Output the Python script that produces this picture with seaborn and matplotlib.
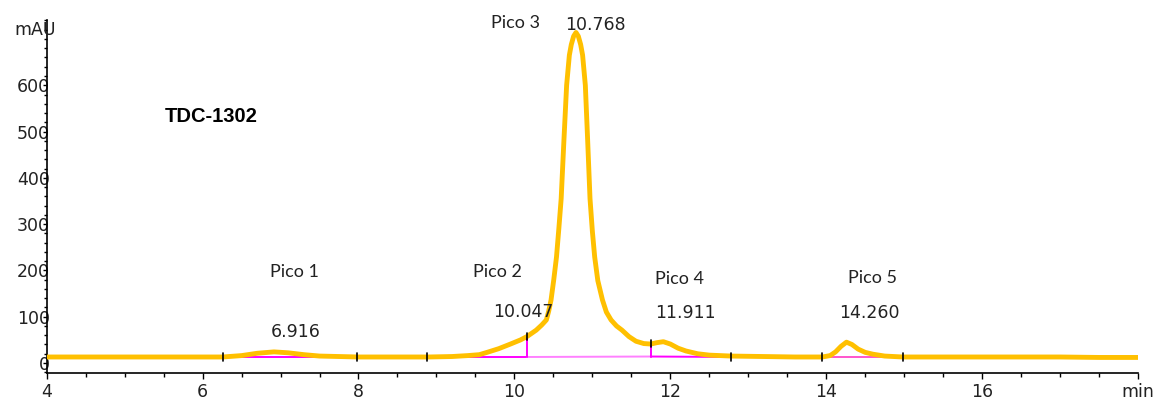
import numpy as np
import pandas as pd
import matplotlib
matplotlib.use("Agg")
import matplotlib.pyplot as plt
from matplotlib.ticker import MultipleLocator
import seaborn as sns

# ---- data ----
time_min = [4.0, 5.0, 6.0, 6.26, 6.5, 6.7, 6.916, 7.1, 7.3, 7.5, 7.75, 8.0, 8.5, 8.9,
            9.2, 9.4, 9.55, 9.65, 9.8, 9.95, 10.08, 10.16, 10.22, 10.28, 10.35,
            10.41, 10.44, 10.47, 10.505, 10.54, 10.57, 10.60, 10.635, 10.67, 10.705,
            10.73, 10.76, 10.79, 10.82, 10.85, 10.875, 10.91, 10.94, 10.97, 11.0,
            11.03, 11.07, 11.13, 11.18, 11.24, 11.31, 11.38, 11.47, 11.56, 11.66,
            11.75, 11.83, 11.911, 12.0, 12.1, 12.2, 12.35, 12.5, 12.78, 13.2, 13.6,
            13.95, 14.05, 14.12, 14.19, 14.26, 14.33, 14.41, 14.5, 14.6, 14.75, 14.98,
            15.5, 16.0, 16.5, 17.0, 17.5, 18.0]
signal_mau = [13, 13, 13, 13, 16, 21, 24, 22, 18, 15, 14, 13, 13, 13,
              14, 16, 18, 23, 31, 41, 50, 57, 64, 71, 82,
              93, 112, 136, 180, 229, 290, 355, 480, 600, 665,
              688, 706, 714, 706, 688, 665, 600, 480, 355, 285,
              229, 178, 136, 110, 93, 80, 71, 57, 47, 42,
              41, 44, 46, 41, 32, 26, 20, 17, 15, 14, 13,
              13, 16, 24, 36, 45, 40, 30, 23, 19, 15, 13,
              13, 13, 13, 13, 12, 12]

# integration baselines (start, end, level at start, level at end)
base_start = [6.26, 8.88, 10.16, 11.75, 13.95]
base_end = [7.98, 10.16, 11.75, 12.78, 14.98]
base_v0 = [12, 12, 13, 14, 13]
base_v1 = [12, 12, 14, 13, 13]
base_colors = ["#FF00FF", "#FF00FF", "#FF80FF", "#FF00FF", "#FF55CC"]

# drop lines (time, top level)
drop_t = [10.16, 11.75]
drop_top = [52, 37]
drop_bottom = [12, 13]

# integration event marks (time, centre level)
mark_t = [6.26, 7.98, 8.88, 10.16, 11.75, 12.78, 13.95, 14.98]
mark_v = [13, 13, 13, 57, 42, 13, 13, 13]

# annotations
pico_names = ["Pico 1", "Pico 2", "Pico 3", "Pico 4", "Pico 5"]
pico_name_t = [7.18, 9.78, 10.01, 12.12, 14.59]
pico_name_v = [197, 197, 734, 181, 183]
rt_labels = ["6.916", "10.047", "10.768", "11.911", "14.260"]
rt_t = [7.19, 10.12, 11.04, 12.20, 14.55]
rt_v = [67, 110, 730, 108, 108]

x_ticks = [4, 6, 8, 10, 12, 14, 16, 18]
x_ticklabels = ["4", "6", "8", "10", "12", "14", "16", "min"]
y_ticks = [0, 100, 200, 300, 400, 500, 600]
y_ticklabels = ["0", "100", "200", "300", "400", "500", "600"]

sample_name = "TDC-1302"

# ---- plotting ----
sns.set_theme(style="ticks")
plt.rcParams['font.family'] = ['DejaVu Sans']

W, H = 1153, 400
fig = plt.figure(figsize=(W / 100, H / 100), dpi=100)
ax = fig.add_axes([46.7 / W, 27 / H, (1138 - 46.7) / W, (373 - 20) / H])

df = pd.DataFrame({"t": time_min, "v": signal_mau})

# baselines
for s, e, a, b, c in zip(base_start, base_end, base_v0, base_v1, base_colors):
    ax.plot([s, e], [a, b], color=c, lw=1.4, zorder=2)

sns.lineplot(data=df, x="t", y="v", color="#FFC000", linewidth=3.5, ax=ax,
             zorder=3, sort=False)
for ln in ax.get_lines():
    ln.set_solid_joinstyle("round")
    ln.set_solid_capstyle("round")

# drop lines
for t, top, b in zip(drop_t, drop_top, drop_bottom):
    ax.plot([t, t], [b, top], color="#FF00FF", lw=1.4, zorder=4)

# event marks
for t, v in zip(mark_t, mark_v):
    ax.plot([t, t], [v - 8, v + 8], color="black", lw=1.2, zorder=5)

# texts
for name, t, v in zip(pico_names, pico_name_t, pico_name_v):
    ax.text(t, v, name, ha="center", va="center", fontsize=13,
            family=["Lato", "DejaVu Sans"], color="#222222")
for lab, t, v in zip(rt_labels, rt_t, rt_v):
    ax.text(t, v, lab, ha="center", va="center", fontsize=12.5, color="#222222")

ax.text(5.52, 533, sample_name, ha="left", va="center", fontsize=14.5,
        fontweight="bold", family=["Liberation Sans", "DejaVu Sans"], color="black")

fig.text(56 / W, 1 - 30 / H, "mAU", ha="right", va="center", fontsize=12.5,
         color="#222222")

ax.set_xlim(4, 18)
ax.set_ylim(-21.6, 741)
ax.set_xticks(x_ticks)
ax.set_xticklabels(x_ticklabels)
ax.set_yticks(y_ticks)
ax.set_yticklabels(y_ticklabels)
ax.xaxis.set_minor_locator(MultipleLocator(0.5))
ax.yaxis.set_minor_locator(MultipleLocator(20))
ax.set_xlabel("")
ax.set_ylabel("")

ax.tick_params(axis="x", which="major", length=4, width=1, pad=3, labelsize=12.5,
               colors="black", labelcolor="#222222")
ax.tick_params(axis="x", which="minor", length=3, width=1, colors="black")
ax.tick_params(axis="y", which="major", length=3, width=1, pad=-5.5, labelsize=12.5,
               colors="black", labelcolor="#222222")
ax.tick_params(axis="y", which="minor", length=2, width=1, colors="black")

for side in ["top", "right"]:
    ax.spines[side].set_visible(False)
for side in ["left", "bottom"]:
    ax.spines[side].set_color("black")
    ax.spines[side].set_linewidth(1.2)
ax.set_facecolor("white")
fig.patch.set_facecolor("white")

fig.savefig("out.png", dpi=100)
